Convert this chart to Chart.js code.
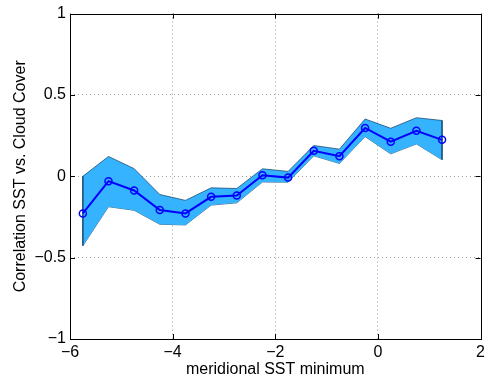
<!DOCTYPE html>
<html>
<head>
<meta charset="utf-8">
<script src="https://cdn.jsdelivr.net/npm/chart.js@4.4.1/dist/chart.umd.min.js"></script>
<style>
  html, body { margin: 0; padding: 0; background: #fff; }
  #wrap { width: 489px; height: 379px; }
</style>
</head>
<body>
<div id="wrap"><canvas id="c" width="489" height="379"></canvas></div>
<script>
// Meridional SST minimum bins (bin centres)
const sstMin = [-5.75, -5.25, -4.75, -4.25, -3.75, -3.25, -2.75, -2.25, -1.75, -1.25, -0.75, -0.25, 0.25, 0.75, 1.25];
// Correlation between SST and cloud cover per bin
const corr   = [-0.228, -0.030, -0.087, -0.207, -0.228, -0.126, -0.118, 0.006, -0.008, 0.157, 0.124, 0.297, 0.213, 0.280, 0.224];
// Upper and lower bounds of the uncertainty band
const upper  = [0.000, 0.122, 0.047, -0.112, -0.148, -0.071, -0.075, 0.046, 0.030, 0.189, 0.167, 0.352, 0.295, 0.360, 0.343];
const lower  = [-0.427, -0.187, -0.209, -0.295, -0.299, -0.177, -0.163, -0.035, -0.036, 0.126, 0.079, 0.244, 0.138, 0.199, 0.102];

const xTicks = [-6, -4, -2, 0, 2];
const yTicks = [-1, -0.5, 0, 0.5, 1];

const pts = (xs, ys) => xs.map((x, i) => ({ x: x, y: ys[i] }));
const last = sstMin.length - 1;
// closing edges of the band at both ends
const bandEnds = [
  { x: sstMin[0], y: upper[0] }, { x: sstMin[0], y: lower[0] },
  { x: sstMin[0], y: null },
  { x: sstMin[last], y: upper[last] }, { x: sstMin[last], y: lower[last] }
];

const FONT = 'Liberation Sans, Arial, Helvetica, sans-serif';
const edge = 'rgba(20,70,110,0.75)';
const band = '#36b3ff';

// Frame with inward ticks on all four sides
const framePlugin = {
  id: 'frame',
  afterDatasetsDraw(chart) {
    const { ctx, chartArea: a, scales } = chart;
    ctx.save();
    ctx.strokeStyle = '#000';
    ctx.lineWidth = 1;
    const tl = 5;
    ctx.beginPath();
    scales.x.ticks.forEach(t => {
      const px = Math.round(scales.x.getPixelForValue(t.value)) + 0.5;
      ctx.moveTo(px, a.bottom); ctx.lineTo(px, a.bottom - tl);
      ctx.moveTo(px, a.top); ctx.lineTo(px, a.top + tl);
    });
    scales.y.ticks.forEach(t => {
      const py = Math.round(scales.y.getPixelForValue(t.value)) + 0.5;
      ctx.moveTo(a.left, py); ctx.lineTo(a.left + tl, py);
      ctx.moveTo(a.right, py); ctx.lineTo(a.right - tl, py);
    });
    ctx.stroke();
    ctx.strokeRect(Math.round(a.left) + 0.5, Math.round(a.top) + 0.5,
                   Math.round(a.right - a.left), Math.round(a.bottom - a.top));
    ctx.restore();
  }
};

const interior = (min, max) => (c) =>
  (c.tick && (c.tick.value === min || c.tick.value === max)) ? 'rgba(0,0,0,0)' : '#a0a0a0';

new Chart(document.getElementById('c'), {
  type: 'line',
  data: {
    datasets: [
      {
        data: pts(sstMin, upper),
        borderColor: edge, borderWidth: 1,
        backgroundColor: band,
        pointRadius: 0, fill: '+1', tension: 0, order: 3
      },
      {
        data: pts(sstMin, lower),
        borderColor: edge, borderWidth: 1,
        pointRadius: 0, fill: false, tension: 0, order: 3
      },
      {
        data: bandEnds,
        borderColor: edge, borderWidth: 1,
        pointRadius: 0, fill: false, spanGaps: false, order: 2
      },
      {
        data: pts(sstMin, corr),
        borderColor: '#0000ff', borderWidth: 2,
        pointRadius: 3.5, pointBorderWidth: 1.5,
        pointBorderColor: '#0000ff', pointBackgroundColor: 'rgba(0,0,0,0)',
        fill: false, tension: 0, order: 1
      }
    ]
  },
  options: {
    responsive: false,
    animation: false,
    devicePixelRatio: 1,
    layout: { padding: { top: 11, right: 2, left: 0, bottom: 0 } },
    plugins: { legend: { display: false }, tooltip: { enabled: false } },
    scales: {
      x: {
        type: 'linear', min: -6, max: 2,
        afterBuildTicks: s => { s.ticks = xTicks.map(v => ({ value: v })); },
        afterFit: s => { s.height = 40; },
        grid: { color: interior(-6, 2), drawTicks: false, lineWidth: 1 },
        border: { display: false, dash: [1, 3] },
        ticks: {
          padding: 4, color: '#000', maxRotation: 0,
          font: { family: FONT, size: 16 },
          callback: v => String(v).replace('-', '\u2212')
        },
        title: {
          display: true, text: 'meridional SST minimum', color: '#000',
          font: { family: FONT, size: 16 }, padding: { top: -2, bottom: 0 }
        }
      },
      y: {
        type: 'linear', min: -1, max: 1,
        afterBuildTicks: s => { s.ticks = yTicks.map(v => ({ value: v })); },
        afterFit: s => { s.width = 70; },
        grid: { color: interior(-1, 1), drawTicks: false, lineWidth: 1 },
        border: { display: false, dash: [1, 3] },
        ticks: {
          padding: 4, color: '#000',
          font: { family: FONT, size: 16 },
          callback: v => String(v).replace('-', '\u2212')
        },
        title: {
          display: true, text: 'Correlation SST vs. Cloud Cover', color: '#000',
          font: { family: FONT, size: 16 }, padding: { top: 11, bottom: 0 }
        }
      }
    }
  },
  plugins: [framePlugin]
});
</script>
</body>
</html>
